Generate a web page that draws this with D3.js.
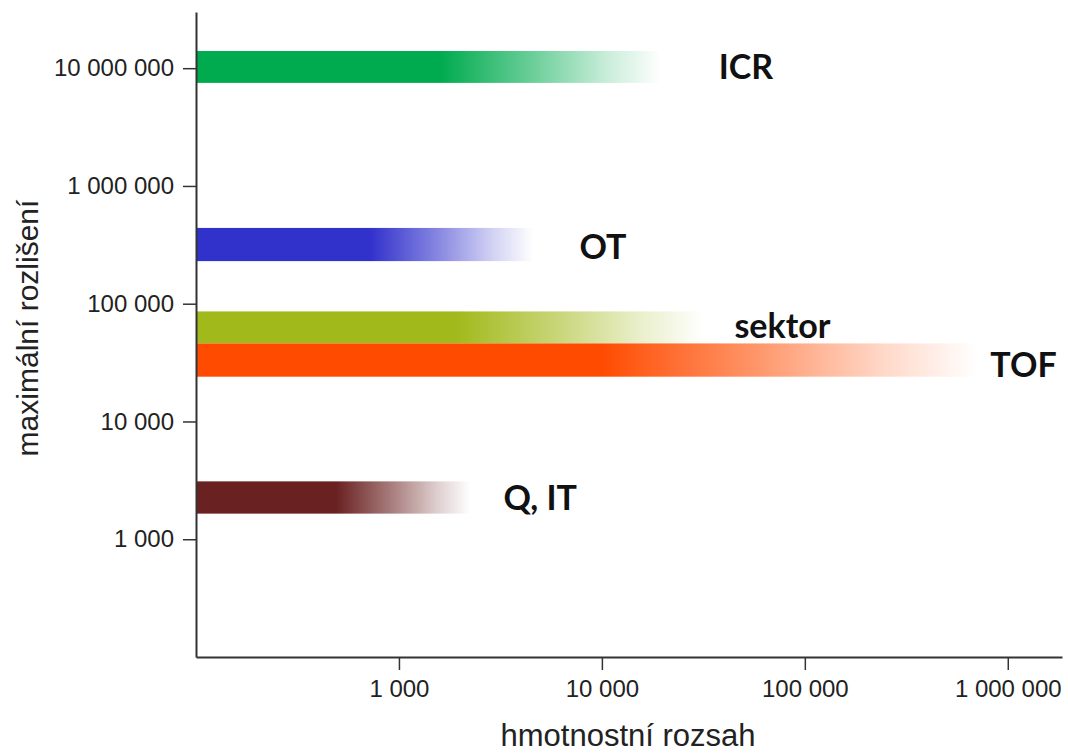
<!DOCTYPE html>
<html>
<head>
<meta charset="utf-8">
<script src="https://cdn.jsdelivr.net/npm/d3@7"></script>
<style>
  body { margin: 0; background: #fff; }
  svg { display: block; }
  .tick text { font-family: "Liberation Sans", Arial, sans-serif; fill: #222; }
</style>
</head>
<body>
<div id="chart"></div>
<script>
// Instrument types (bar labels)
const instruments = ["ICR", "OT", "sektor", "TOF", "Q, IT"];
// Resolution band (low / high) of each bar
const resLow = [7.5e6, 2.3e5, 4.6e4, 2.4e4, 1650];
const resHigh = [1.4e7, 4.4e5, 8.6e4, 4.6e4, 3100];
// Mass range: where the solid colour ends and where the fade ends
const massSolid = [1600, 720, 1900, 9800, 490];
const massMax = [19500, 4600, 32000, 700000, 2250];
const colors = ["#00ab4f", "#3131cc", "#a2b91b", "#ff4b00", "#6a2121"];

// Axis ticks
const xTicks = [1000, 10000, 100000, 1000000];
const yTicks = [1000, 10000, 100000, 1000000, 10000000];

// label nudges (pixels) - layout only
const labelDx = [58, 46, 30, 14, 33];
const labelDy = [0, 2, -1, 5, 1];

const W = 1068, H = 755;

const svg = d3.select("#chart")
    .append("svg")
    .attr("width", W)
    .attr("height", H);

const xScale = d3.scaleLog()
    .domain([100, 1.85e6])
    .range([196, 1062]);

const yScale = d3.scaleLog()
    .domain([100, 3.0e7])
    .range([657, 12]);

// numbers with a space as thousands separator
const locale = d3.formatLocale({ decimal: ",", thousands: " ", grouping: [3], currency: ["", ""] });
const fmt = locale.format(",d");

const data = instruments.map((name, i) => ({
    name: name,
    low: resLow[i],
    high: resHigh[i],
    solid: massSolid[i],
    max: massMax[i],
    color: colors[i],
}));

// Gradients: solid colour, then fading to white
const defs = svg.append("defs");
data.forEach((d, i) => {
    const x0 = xScale(100), x1 = xScale(d.max);
    const s = (xScale(d.solid) - x0) / (x1 - x0);
    const g = defs.append("linearGradient")
        .attr("id", "grad" + i)
        .attr("x1", "0%").attr("x2", "100%")
        .attr("y1", "0%").attr("y2", "0%");
    g.append("stop").attr("offset", 0).attr("stop-color", d.color).attr("stop-opacity", 1);
    g.append("stop").attr("offset", s).attr("stop-color", d.color).attr("stop-opacity", 1);
    g.append("stop").attr("offset", s + (1 - s) * 0.4).attr("stop-color", d.color).attr("stop-opacity", 0.6);
    g.append("stop").attr("offset", s + (1 - s) * 0.75).attr("stop-color", d.color).attr("stop-opacity", 0.22);
    g.append("stop").attr("offset", 1).attr("stop-color", d.color).attr("stop-opacity", 0);
});

svg.selectAll(".bar")
    .data(data)
    .enter()
    .append("rect")
    .attr("class", "bar")
    .attr("x", xScale(100))
    .attr("width", (d) => xScale(d.max) - xScale(100))
    .attr("y", (d) => yScale(d.high))
    .attr("height", (d) => yScale(d.low) - yScale(d.high))
    .attr("fill", (d, i) => `url(#grad${i})`);

// Bar labels
svg.selectAll(".label")
    .data(data)
    .enter()
    .append("text")
    .attr("class", "label")
    .attr("x", (d, i) => xScale(d.max) + labelDx[i])
    .attr("y", (d, i) => (yScale(d.low) + yScale(d.high)) / 2 + 12 + labelDy[i])
    .style("font-family", "Lato, 'Open Sans', sans-serif")
    .style("font-weight", "bold")
    .style("font-size", "34px")
    .attr("fill", "#111")
    .text((d) => d.name);

// Axes
const xAxis = svg.append("g")
    .attr("transform", `translate(0,${yScale.range()[0]})`)
    .call(d3.axisBottom(xScale).tickValues(xTicks).tickFormat(fmt)
        .tickSize(13).tickSizeOuter(0).tickPadding(10));

const yAxis = svg.append("g")
    .attr("transform", `translate(${xScale.range()[0]},0)`)
    .call(d3.axisLeft(yScale).tickValues(yTicks).tickFormat(fmt)
        .tickSize(13).tickSizeOuter(0).tickPadding(9));

[xAxis, yAxis].forEach((ax) => {
    ax.select(".domain").attr("stroke", "#333").attr("stroke-width", 2);
    ax.selectAll(".tick line").attr("stroke", "#333").attr("stroke-width", 1.5);
    ax.selectAll(".tick text").style("font-size", "24px");
});

// Axis titles
svg.append("text")
    .attr("text-anchor", "middle")
    .attr("x", 628)
    .attr("y", 746)
    .style("font-family", "'Liberation Sans', Arial, sans-serif")
    .style("font-size", "31px")
    .attr("fill", "#222")
    .text("hmotnostní rozsah");

svg.append("text")
    .attr("text-anchor", "middle")
    .attr("transform", "rotate(-90)")
    .attr("x", -328)
    .attr("y", 38)
    .style("font-family", "'Liberation Sans', Arial, sans-serif")
    .style("font-size", "30px")
    .attr("fill", "#222")
    .text("maximální rozlišení");
</script>
</body>
</html>
